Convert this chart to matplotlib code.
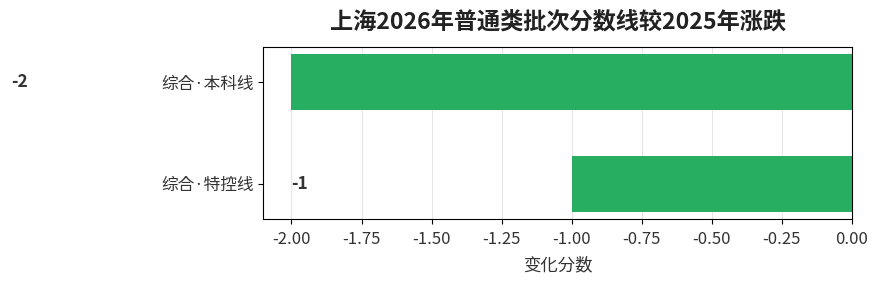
import matplotlib
matplotlib.use('Agg')
import matplotlib.pyplot as plt

plt.rcParams['font.family'] = ['Noto Sans CJK JP', 'DejaVu Sans']
plt.rcParams['axes.unicode_minus'] = False

# 数据
categories = ["综合·本科线", "综合·特控线"]
changes = [-2, -1]
title = "上海2026年普通类批次分数线较2025年涨跌"

fig, ax = plt.subplots(figsize=(8.8, 2.86), dpi=100)
fig.subplots_adjust(left=0.2994, right=0.968, top=0.837, bottom=0.233)

y = range(len(categories))
ax.barh(list(y), changes, height=0.55, color='#27ae60', zorder=2)
ax.set_yticks(list(y))
ax.set_yticklabels(categories, fontsize=12, color='#333333')
ax.invert_yaxis()
ax.set_xlim(-2.1, 0)

# 数值标签
for i, v in enumerate(changes):
    ax.text(v - 1, i, f"{v}", ha='left', va='center', fontsize=12.5,
            fontweight='bold', color='#333333', clip_on=False)

ax.grid(axis='x', color='#e6e6e6', linewidth=0.8, zorder=0)
ax.tick_params(axis='x', labelsize=12, labelcolor='#333333', pad=5)
ax.set_xlabel("变化分数", fontsize=12.5, color='#333333', labelpad=6)
ax.set_title(title, fontsize=16.7, fontweight='bold', color='#222222', pad=12)

plt.savefig("out.png", dpi=100)
